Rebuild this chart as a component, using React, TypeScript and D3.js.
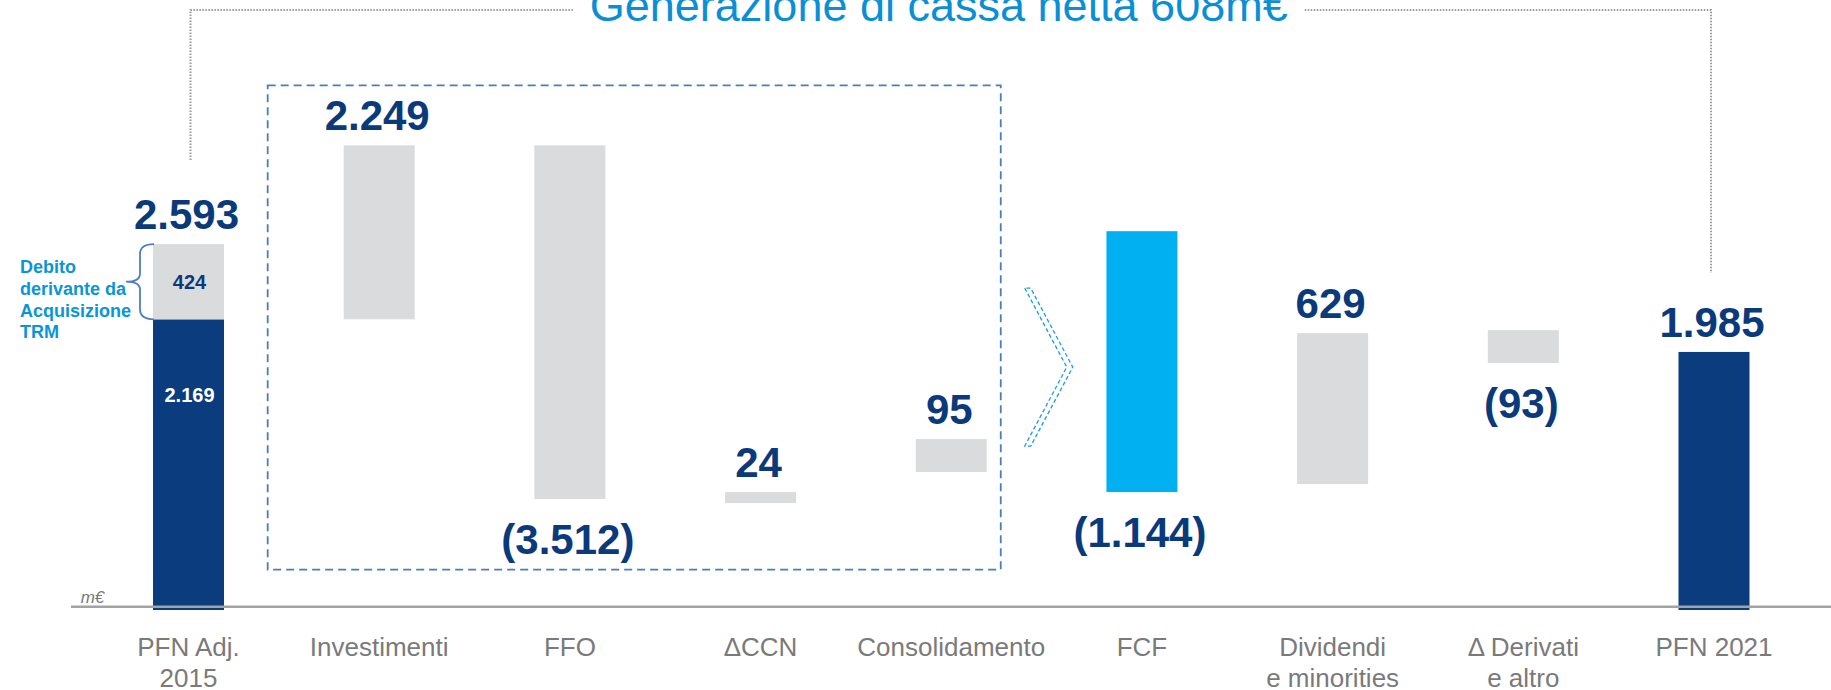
import React from "react";
import * as d3 from "d3";

// ---------- data ----------
const categories = [
  "PFN Adj.\n2015",
  "Investimenti",
  "FFO",
  "ΔCCN",
  "Consolidamento",
  "FCF",
  "Dividendi\ne minorities",
  "Δ Derivati\ne altro",
  "PFN 2021",
];
const deltas = [2593, 2249, -3512, 24, 95, -1144, 629, -93, 1985];
// bar extents as drawn (m€, compressed presentation scale)
const barLow = [0, 2169, 1156, 1133, 1308, 1195, 1240, 1922, 0];
const barHigh = [2593, 3150, 3150, 1195, 1494, 2666, 2091, 2108, 1985];
const barType = ["start", "step", "step", "step", "step", "subtotal", "step", "step", "end"];
// split of the opening net debt
const pfnCore = 2169;
const pfnTrm = 424;
const trmNote = ["Debito", "derivante da", "Acquisizione", "TRM"];
const title = "Generazione di cassa netta 608m€";
const unitLabel = "m€";

// ---------- style ----------
const W = 1831;
const H = 690;
const FONT = "'Liberation Sans', Arial, sans-serif";
const NAVY = "#0a3c7e";
const NAVY_TXT = "#0b3a7b";
const GREY_BAR = "#dadbdc";
const CYAN = "#00b0f0";
const TITLE_BLUE = "#0a8fd6";
const NOTE_BLUE = "#0a95d9";
const LABEL_GREY = "#7a7a7a";

const locale = d3.formatLocale({ decimal: ",", thousands: ".", grouping: [3], currency: ["", "€"] });
const fmtInt = locale.format(",d");
const fmtVal = (v: number) => (v < 0 ? `(${fmtInt(-v)})` : fmtInt(v));

export default function App() {
  const x = d3.scalePoint<string>().domain(categories).range([188.5, 1714]);
  const y = d3.scaleLinear().domain([530, 3400]).range([610, 101]).clamp(true);
  const bw = 71;
  const axisY = 606.7;

  const cx = (i: number) => x(categories[i]) as number;

  // opening bar geometry
  const bl = cx(0) - bw / 2;
  const tTop = y(pfnCore + pfnTrm);
  const tBot = y(pfnCore);
  const tMid = (tTop + tBot) / 2;

  // dashed group box
  const boxLeft = cx(1) - bw / 2 - 76;
  const boxRight = cx(4) + bw / 2 + 14;
  const boxTop = y(barHigh[1]) - 60;
  const boxBottom = axisY - 37;

  // chevron
  const fTop = y(barHigh[5]);
  const fBot = y(barLow[5]);
  const cL = boxRight + 24;
  const cTip = boxRight + 66;
  const cT = fTop + 57;
  const cB = fBot - 46;
  const cM = (cT + cB) / 2;
  const off = 6;
  const chevron = `M${cL},${cT} L${cTip},${cM} L${cL},${cB} L${cL + off},${cB} L${cTip + off},${cM} L${cL + off},${cT} Z`;

  // top bracket
  const leftX = cx(0) + 2;
  const rightX = cx(8) - 3;
  const titleX = (leftX + rightX) / 2 - 12;
  const titleHalf = 349;
  const bracketY = 10;

  const brace = `M${bl + 1},${tTop} Q${bl - 13},${tTop} ${bl - 13},${tTop + 10} L${bl - 13},${tMid - 8} Q${bl - 13},${tMid} ${bl - 27},${tMid} Q${bl - 13},${tMid} ${bl - 13},${tMid + 8} L${bl - 13},${tBot - 10} Q${bl - 13},${tBot} ${bl + 1},${tBot}`;

  return (
    <svg
      width={W}
      height={H}
      viewBox={`0 0 ${W} ${H}`}
      style={{ position: "absolute", left: 0, top: 0, display: "block", background: "#fff" }}
      fontFamily={FONT}
    >
      {/* top dotted bracket */}
      <g stroke="#9a9a9a" strokeWidth={2} strokeDasharray="1.5,1.5" fill="none">
        <path d={`M${leftX},${y(barHigh[0]) - 84} L${leftX},${bracketY} L${titleX - titleHalf - 17},${bracketY}`} />
        <path d={`M${titleX + titleHalf + 17},${bracketY} L${rightX},${bracketY} L${rightX},${y(barHigh[8]) - 79}`} />
      </g>
      <text x={titleX} y={21} textAnchor="middle" fontSize={45} fill={TITLE_BLUE}>
        {title}
      </text>

      {/* dashed group box */}
      <rect
        x={boxLeft}
        y={boxTop}
        width={boxRight - boxLeft}
        height={boxBottom - boxTop}
        fill="none"
        stroke="#4a7ebb"
        strokeWidth={1.8}
        strokeDasharray="8,5"
      />

      {/* chevron */}
      <path d={chevron} fill="none" stroke="#1e9be0" strokeWidth={1.3} strokeDasharray="4,2.5" />

      {/* bars */}
      {categories.map((c, i) => {
        const xl = cx(i) - bw / 2;
        if (barType[i] === "start") {
          return (
            <g key={c}>
              <rect x={xl} y={y(pfnCore)} width={bw} height={y(barLow[i]) - y(pfnCore)} fill={NAVY} />
              <rect x={xl} y={y(pfnCore + pfnTrm)} width={bw} height={y(pfnCore) - y(pfnCore + pfnTrm)} fill={GREY_BAR} />
            </g>
          );
        }
        const fill = barType[i] === "end" ? NAVY : barType[i] === "subtotal" ? CYAN : GREY_BAR;
        return (
          <rect
            key={c}
            x={xl}
            y={y(barHigh[i])}
            width={bw}
            height={y(barLow[i]) - y(barHigh[i])}
            fill={fill}
          />
        );
      })}

      {/* axis */}
      <line x1={71} x2={W} y1={axisY} y2={axisY} stroke="#a3a3a3" strokeWidth={2.5} />
      <text x={80.7} y={602.7} fontSize={17} fontStyle="italic" fill={LABEL_GREY}>
        {unitLabel}
      </text>

      {/* inner labels of the opening bar */}
      <text x={cx(0) + 1} y={tMid + 7} textAnchor="middle" fontSize={20} fontWeight="bold" fill={NAVY_TXT}>
        {fmtVal(pfnTrm)}
      </text>
      <text x={cx(0) + 1} y={tBot + 83} textAnchor="middle" fontSize={20} fontWeight="bold" fill="#ffffff">
        {fmtVal(pfnCore)}
      </text>

      {/* brace + note */}
      <path d={brace} fill="none" stroke="#4f7fbe" strokeWidth={1.8} />
      {trmNote.map((t, k) => (
        <text key={t} x={20} y={tMid - 8.6 + k * 21.7} fontSize={18} fontWeight="bold" fill={NOTE_BLUE}>
          {t}
        </text>
      ))}

      {/* value labels */}
      {categories.map((c, i) => {
        const v = deltas[i];
        const ty = v < 0 ? y(barLow[i]) + 55 : y(barHigh[i]) - 15;
        return (
          <text
            key={c}
            x={cx(i) - 2}
            y={ty}
            textAnchor="middle"
            fontSize={42}
            fontWeight="bold"
            fill={NAVY_TXT}
          >
            {fmtVal(v)}
          </text>
        );
      })}

      {/* category labels */}
      {categories.map((c, i) => (
        <text key={c} x={cx(i)} y={656} textAnchor="middle" fontSize={26} fill={LABEL_GREY}>
          {c.split("\n").map((line, k) => (
            <tspan key={k} x={cx(i)} dy={k === 0 ? 0 : 31}>
              {line}
            </tspan>
          ))}
        </text>
      ))}
    </svg>
  );
}
